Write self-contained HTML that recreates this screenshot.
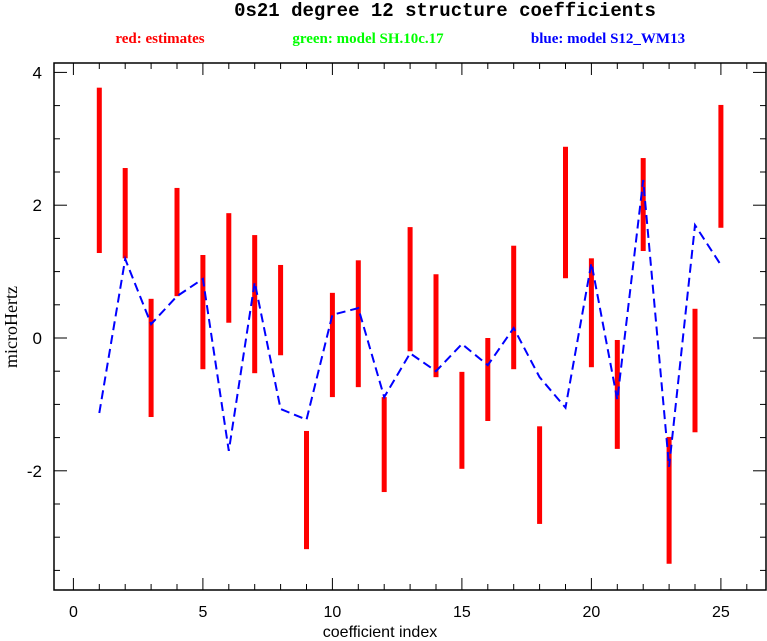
<!DOCTYPE html>
<html><head><meta charset="utf-8"><style>
html,body{margin:0;padding:0;background:#fff;}
svg{display:block;}
</style></head><body>
<svg id="chart" width="767" height="641" xmlns="http://www.w3.org/2000/svg" font-family="Liberation Sans, sans-serif">
<text x="445" y="16" text-anchor="middle" font-family="Liberation Mono, monospace" font-size="19" font-weight="bold">0s21 degree 12 structure coefficients</text>
<text x="160" y="43" text-anchor="middle" font-family="Liberation Serif, serif" font-size="15" font-weight="bold" fill="#ff0000">red: estimates</text>
<text x="368" y="43" text-anchor="middle" font-family="Liberation Serif, serif" font-size="15" font-weight="bold" fill="#00ff00">green: model SH.10c.17</text>
<text x="608" y="43" text-anchor="middle" font-family="Liberation Serif, serif" font-size="15" font-weight="bold" fill="#0000ff">blue: model S12_WM13</text>
<g id="axes"></g>
<g id="marks"></g>
<text x="380" y="637" text-anchor="middle" font-size="16">coefficient index</text>
<text transform="translate(17,327) rotate(-90)" text-anchor="middle" font-family="Liberation Serif, serif" font-size="18">microHertz</text>
</svg>
<script>
const indices=[1,2,3,4,5,6,7,8,9,10,11,12,13,14,15,16,17,18,19,20,21,22,23,24,25];
const estLow=[1.28,1.2,-1.19,0.63,-0.47,0.23,-0.53,-0.26,-3.18,-0.89,-0.74,-2.32,-0.2,-0.59,-1.97,-1.25,-0.47,-2.8,0.9,-0.44,-1.67,1.31,-3.4,-1.42,1.66];
const estHigh=[3.77,2.56,0.59,2.26,1.25,1.88,1.55,1.10,-1.40,0.68,1.17,-0.89,1.67,0.96,-0.51,0,1.39,-1.33,2.88,1.2,-0.03,2.71,-1.49,0.44,3.51];
const blueModel=[-1.13,1.19,0.21,0.63,0.89,-1.7,0.84,-1.07,-1.23,0.35,0.45,-0.89,-0.23,-0.5,-0.09,-0.41,0.15,-0.59,-1.05,1.13,-0.93,2.38,-1.94,1.7,1.1];
const xTickLabels=[0,5,10,15,20,25];
const yTickLabels=[4,2,0,-2];
const NS='http://www.w3.org/2000/svg';
const L=54,R=766,T=63,B=590;
const X0=0,X1=26.5;
const Y0=-3.8,Y1=4.14;
function xs(v){return L+(v-X0)/(X1-X0)*(R-L)+17-0.0;}
function xsc(v){return 73.4+v*25.9;}
function ys(v){return 338-v*66.4;}
function mk(tag,attrs,parent){const e=document.createElementNS(NS,tag);for(const k in attrs)e.setAttribute(k,attrs[k]);parent.appendChild(e);return e;}
const axes=document.getElementById('axes');
const marks=document.getElementById('marks');
const frame=mk('rect',{x:L,y:T,width:R-L,height:B-T,fill:'none',stroke:'#000','stroke-width':1.5},axes);


for(let i=0;i<=26;i++){
  const x=xsc(i);const major=i%5===0;const len=major?12:6;
  const t=mk('line',{x1:x,x2:x,y1:B,y2:B-len,stroke:'#000','stroke-width':1},axes);
  
  
  const t2=mk('line',{x1:x,x2:x,y1:T,y2:T+len,stroke:'#000','stroke-width':1},axes);
  
  
}
xTickLabels.forEach(v=>{
  const t=mk('text',{x:xsc(v),y:617,'text-anchor':'middle','font-size':16},axes);
  t.textContent=v;
  
  
});
for(let v=-3.5;v<=4;v+=0.5){
  const y=ys(v);const major=Math.abs(v%2)<1e-9;const len=major?13:6;
  const t=mk('line',{x1:L,x2:L+len,y1:y,y2:y,stroke:'#000','stroke-width':1},axes);
  
  
  const t2=mk('line',{x1:R,x2:R-len,y1:y,y2:y,stroke:'#000','stroke-width':1},axes);
  
  
}
yTickLabels.forEach(v=>{
  const t=mk('text',{x:42,y:ys(v)+6,'text-anchor':'end','font-size':17},axes);
  t.textContent=v;
  
  
});
indices.forEach((idx,i)=>{
  const y1=ys(estHigh[i]),y2=ys(estLow[i]);
  const b=mk('rect',{x:xsc(idx)-2.5,y:y1,width:5,height:y2-y1,fill:'#ff0000'},marks);
  
  
});
const pts=indices.map((idx,i)=>xsc(idx).toFixed(1)+','+ys(blueModel[i]).toFixed(1)).join(' ');
const pl=mk('polyline',{points:pts,fill:'none',stroke:'#0000ff','stroke-width':2,'stroke-dasharray':'9,5'},marks);


</script>
</body></html>
